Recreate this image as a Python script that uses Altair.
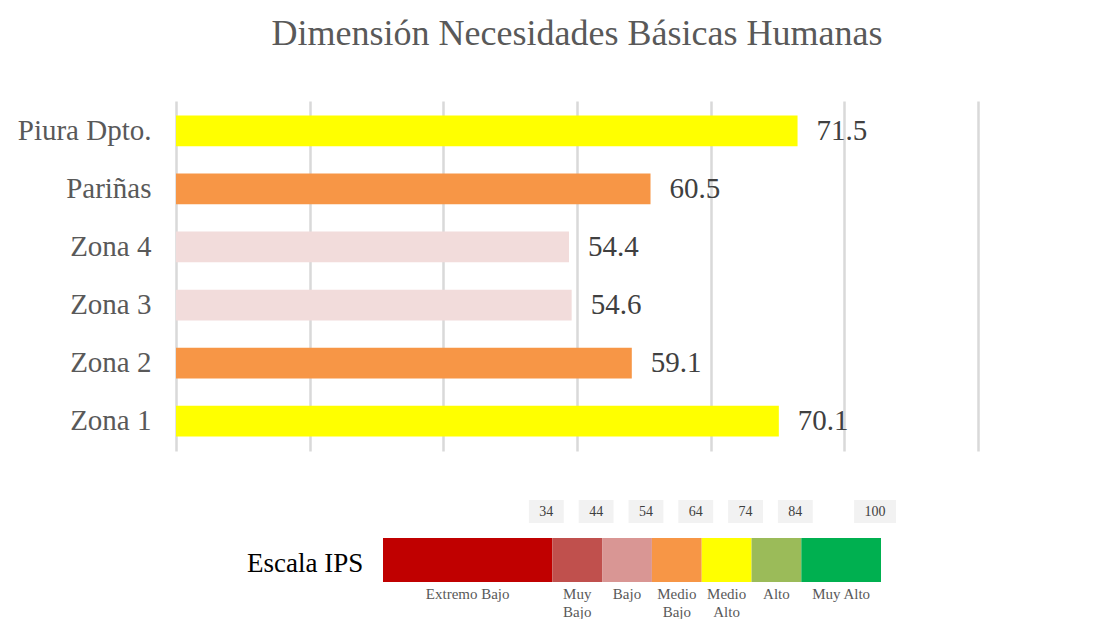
import altair as alt
import pandas as pd

# ---- data ----
categories = ["Piura Dpto.", "Pariñas", "Zona 4", "Zona 3", "Zona 2", "Zona 1"]
values = [71.5, 60.5, 54.4, 54.6, 59.1, 70.1]
bar_colors = ["#FFFF00", "#F79646", "#F2DCDB", "#F2DCDB", "#F79646", "#FFFF00"]

grid_values = [25, 35, 45, 55, 65, 75, 85]

scale_levels = ["Extremo Bajo", "Muy\nBajo", "Bajo", "Medio\nBajo", "Medio\nAlto", "Alto", "Muy Alto"]
scale_start = [0, 34, 44, 54, 64, 74, 84]
scale_end = [34, 44, 54, 64, 74, 84, 100]
scale_colors = ["#C00000", "#C0504D", "#D99694", "#F79646", "#FFFF00", "#9BBB59", "#00B050"]
bound_labels = ["34", "44", "54", "64", "74", "84", "100"]
bound_values = [34, 44, 54, 64, 74, 84, 100]

FONT = "Liberation Serif"

bars_df = pd.DataFrame({"cat": categories, "val": values, "color": bar_colors,
                        "label": [f"{v:.1f}" for v in values]})

base = alt.Chart(bars_df).encode(
    y=alt.Y("cat:N", sort=categories, title=None,
            scale=alt.Scale(paddingInner=0.47, paddingOuter=0.25),
            axis=alt.Axis(ticks=False, domain=False, labelFont=FONT, labelFontSize=29,
                          labelColor="#595959", labelPadding=25, labelLimit=400,
                          minExtent=163, maxExtent=163)),
    x=alt.X("val:Q", title=None,
            scale=alt.Scale(domain=[25, 85], nice=False, zero=False),
            axis=alt.Axis(values=grid_values, labels=False, ticks=False, domain=False,
                          grid=True, gridColor="#D9D9D9", gridWidth=2.5,
                          minExtent=0, maxExtent=0)),
)

bars = base.mark_bar(clip=True).encode(color=alt.Color("color:N", scale=None))
labels = base.mark_text(align="left", baseline="middle", dx=19, font=FONT,
                        fontSize=29, color="#404040").encode(text="label:N")

top = alt.layer(bars, labels).properties(
    width=802, height=350,
    title=alt.TitleParams("Dimensión Necesidades Básicas Humanas", font=FONT,
                          fontSize=36, fontWeight="normal", color="#595959",
                          anchor="middle", frame="group", offset=48),
)

# ---- IPS scale legend ----
seg_df = pd.DataFrame({"level": scale_levels, "start": scale_start, "end": scale_end,
                       "color": scale_colors})
seg_df["mid"] = (seg_df["start"] + seg_df["end"]) / 2

box_df = pd.DataFrame({"lab": bound_labels, "b": bound_values})
box_df["c"] = box_df["b"] - 1.2
box_df["hw"] = box_df["lab"].str.len().map({2: 3.5, 3: 4.2})
box_df["x1"] = box_df["c"] - box_df["hw"]
box_df["x2"] = box_df["c"] + box_df["hw"]

xs = alt.Scale(domain=[0, 100], range=[207, 705], nice=False, zero=False)

segs = alt.Chart(seg_df).mark_rect().encode(
    x=alt.X("start:Q", scale=xs, axis=None),
    x2="end:Q",
    y=alt.value(48), y2=alt.value(92),
    color=alt.Color("color:N", scale=None),
)
seg_text = alt.Chart(seg_df).mark_text(baseline="top", align="center", font=FONT,
                                       fontSize=15, color="#595959", lineBreak="\n",
                                       lineHeight=18).encode(
    x=alt.X("mid:Q", scale=xs, axis=None),
    y=alt.value(97),
    text="level:N",
)
boxes = alt.Chart(box_df).mark_rect(color="#F2F2F2").encode(
    x=alt.X("x1:Q", scale=xs, axis=None),
    x2="x2:Q",
    y=alt.value(10), y2=alt.value(33),
)
box_text = alt.Chart(box_df).mark_text(baseline="middle", align="center", font=FONT,
                                       fontSize=14, color="#404040").encode(
    x=alt.X("c:Q", scale=xs, axis=None),
    y=alt.value(22),
    text="lab:N",
)
title_df = pd.DataFrame({"t": ["Escala IPS"]})
esc = alt.Chart(title_df).mark_text(align="left", baseline="middle", font=FONT,
                                    fontSize=27, color="#000000").encode(
    x=alt.value(71), y=alt.value(74), text="t:N")

bottom = alt.layer(boxes, box_text, segs, seg_text, esc).properties(width=802, height=130)

chart = alt.vconcat(top, bottom, spacing=39).properties(
    background="white", padding={"left": 5, "top": 8, "right": 5, "bottom": 5}
).configure_view(stroke=None)

chart.save("out.html", embed_options={"renderer": "svg", "actions": False})
